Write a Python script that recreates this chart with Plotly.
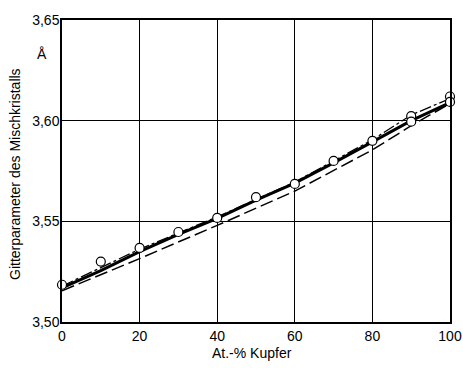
import plotly.graph_objects as go

# measured points
pts_x = [0, 10, 20, 30, 40, 50, 60, 70, 80, 90, 90, 100, 100]
pts_y = [3.5185, 3.5300, 3.5368, 3.5447, 3.5517, 3.5620, 3.5686, 3.5800, 3.5900, 3.6023, 3.5995, 3.6120, 3.6093]

# solid curve
solid_x = [0, 10, 20, 30, 40, 50, 60, 70, 80, 90, 100]
solid_y = [3.5170, 3.5255, 3.5350, 3.5435, 3.5515, 3.5605, 3.5690, 3.5790, 3.5895, 3.6000, 3.6090]

# dash-dot curve
dd_x = [0, 20, 40, 60, 80, 90, 100]
dd_y = [3.5178, 3.5362, 3.5522, 3.5695, 3.5905, 3.6028, 3.6110]

# dashed curve
da_x = [0, 20, 40, 60, 80, 90, 100]
da_y = [3.5155, 3.5315, 3.5480, 3.5650, 3.5855, 3.5975, 3.6085]

x_ticks = [0, 20, 40, 60, 80, 100]
y_ticks = [3.50, 3.55, 3.60, 3.65]

FONT = "Liberation Sans, Arial, sans-serif"

L, R, T, B = 62, 13, 20, 49
W, H = 463, 371
PW, PH = W - L - R, H - T - B

fig = go.Figure()
fig.add_trace(go.Scatter(x=da_x, y=da_y, mode="lines", cliponaxis=False,
                         line=dict(color="black", width=1.5, dash="13px,5px")))
fig.add_trace(go.Scatter(x=dd_x, y=dd_y, mode="lines", cliponaxis=False,
                         line=dict(color="black", width=1.3, dash="12px,3px,3px,3px")))
fig.add_trace(go.Scatter(x=solid_x, y=solid_y, mode="lines", cliponaxis=False,
                         line=dict(color="black", width=3)))
fig.add_trace(go.Scatter(x=pts_x, y=pts_y, mode="markers", cliponaxis=False,
                         marker=dict(symbol="circle", size=9, color="white",
                                     line=dict(color="black", width=1.2))))

fig.update_layout(
    width=W, height=H,
    margin=dict(l=L, r=R, t=T, b=B),
    paper_bgcolor="white", plot_bgcolor="white",
    showlegend=False,
    separators=",.",
    font=dict(family=FONT, size=14, color="black"),
    annotations=[
        dict(text="Å", x=0, y=3.633, xref="paper", yref="y", xanchor="right",
             xshift=-13, showarrow=False, font=dict(size=14, family=FONT)),
        dict(text="Gitterparameter des Mischkristalls",
             x=(15 - L) / PW, y=(H - B - 174) / PH,
             xref="paper", yref="paper", xanchor="center", yanchor="middle",
             showarrow=False, textangle=-90,
             font=dict(size=14, family=FONT)),
        dict(text="At.-% Kupfer", x=0.5, y=0, xref="paper", yref="paper",
             xanchor="center", yanchor="middle", xshift=-4, yshift=-31,
             showarrow=False, font=dict(size=14, family=FONT)),
    ],
)

fig.update_xaxes(range=[0, 100], tickvals=x_ticks, ticks="", automargin=False,
                 ticklabeloverflow="allow",
                 showgrid=True, gridcolor="black", gridwidth=1,
                 showline=True, linecolor="black", linewidth=1.5, mirror=True,
                 zeroline=False, tickfont=dict(size=14, family=FONT))
fig.update_yaxes(range=[3.50, 3.65], tickvals=y_ticks, tickformat=".2f", ticks="",
                 automargin=False, ticklabelstandoff=-2, ticklabeloverflow="allow",
                 showgrid=True, gridcolor="black", gridwidth=1,
                 showline=True, linecolor="black", linewidth=1.5, mirror=True,
                 zeroline=False, tickfont=dict(size=14, family=FONT))

fig.write_html("out.html", config={"displayModeBar": False},
               post_script="document.body.style.margin='0';")
